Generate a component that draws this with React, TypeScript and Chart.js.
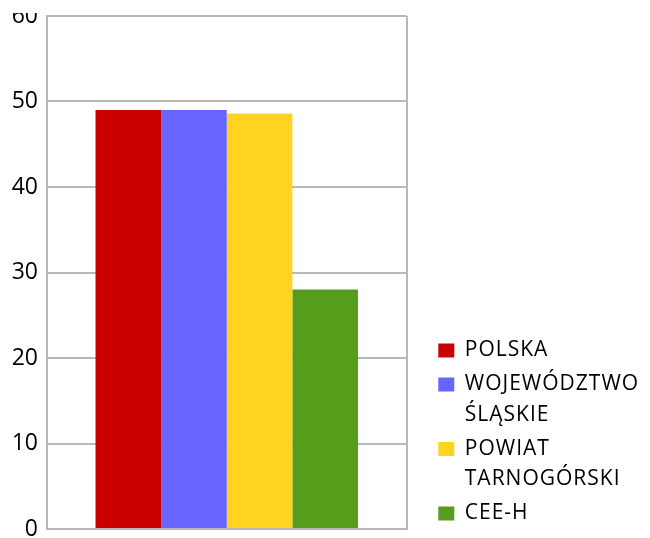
import React, { useEffect, useRef } from 'react';
import { Chart, registerables } from 'chart.js';

Chart.register(...registerables);

const categories = [''];
const seriesLabels = [['POLSKA'], ['WOJEWÓDZTWO', 'ŚLĄSKIE'], ['POWIAT', 'TARNOGÓRSKI'], ['CEE-H']];
const seriesValues = [49.0, 49.0, 48.6, 28.0];
const seriesColors = ['#cc0000', '#6666ff', '#ffd320', '#579d1c'];
const yMin = 0;
const yMax = 60;
const yStep = 10;

const GRID = '#b8b8b8';
const LEGEND_W = 215.2;
const LEGEND_LS = '1px';

const legendFix = {
  id: 'legendFix',
  beforeLayout(chart: any) {
    const lg = chart.legend;
    if (!lg || lg.__fixed) return;
    lg.__fixed = true;
    const fit = lg.fit.bind(lg);
    lg.fit = function () {
      const ctx = this.ctx;
      ctx.save();
      ctx.letterSpacing = LEGEND_LS;
      fit();
      ctx.restore();
      this.width = LEGEND_W;
    };
    const draw = lg.draw.bind(lg);
    lg.draw = function (...args: any[]) {
      const ctx = this.ctx;
      ctx.save();
      ctx.letterSpacing = LEGEND_LS;
      draw(...args);
      ctx.restore();
    };
  },
};

export default function App() {
  const ref = useRef<HTMLCanvasElement | null>(null);
  useEffect(() => {
    if (!ref.current) return;
    const chart = new Chart(ref.current, {
      type: 'bar',
      data: {
        labels: categories,
        datasets: seriesLabels.map((label, i) => ({
          label: label as any,
          data: [seriesValues[i]],
          backgroundColor: seriesColors[i],
          borderWidth: 0,
        })),
      },
      options: {
        animation: false,
        responsive: true,
        maintainAspectRatio: false,
        layout: { padding: { top: 3, bottom: 1, left: 0, right: 0 } },
        datasets: { bar: { categoryPercentage: 0.73, barPercentage: 1 } },
        scales: {
          x: {
            type: 'category',
            grid: { color: GRID, lineWidth: 2, drawTicks: false, offset: true },
            border: { display: true, color: GRID, width: 2 },
            ticks: { display: false },
            afterFit(s: any) {
              s.height = 8;
            },
          },
          y: {
            min: yMin,
            max: yMax,
            ticks: {
              stepSize: yStep,
              color: '#000',
              padding: 9,
              font: { family: 'Open Sans', size: 23 },
            },
            grid: { color: GRID, lineWidth: 2, drawTicks: false },
            border: { display: true, color: GRID, width: 2 },
            afterFit(s: any) {
              s.width = 47;
              s.paddingTop = 0;
              s.paddingBottom = 0;
            },
          },
          y2: {
            position: 'right',
            display: true,
            ticks: { display: false },
            grid: { display: false },
            border: { display: false },
            afterFit(s: any) {
              s.width = 28.3;
              s.paddingTop = 0;
              s.paddingBottom = 0;
            },
          },
        },
        plugins: {
          tooltip: { enabled: false },
          legend: {
            position: 'right',
            align: 'end',
            labels: {
              boxWidth: 16,
              boxHeight: 14,
              padding: 3.5,
              color: '#000',
              font: { family: 'Open Sans', size: 21, lineHeight: 30.5 / 21 },
            },
          },
        },
      } as any,
      plugins: [legendFix],
    });
    return () => chart.destroy();
  }, []);
  return (
    <div style={{ position: 'fixed', left: 0, top: 13, width: 650, height: 525 }}>
      <canvas ref={ref} />
    </div>
  );
}
